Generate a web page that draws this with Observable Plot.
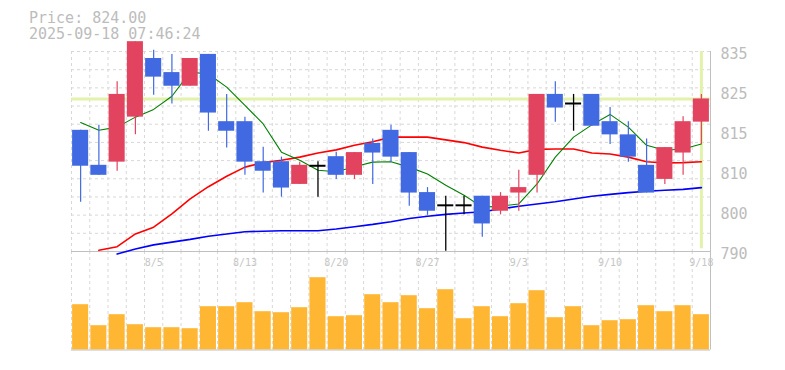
<!DOCTYPE html>
<html><head><meta charset="utf-8">
<script src="https://cdn.jsdelivr.net/npm/d3@7"></script>
<script src="https://cdn.jsdelivr.net/npm/@observablehq/plot@0.6"></script>
<style>
body{margin:0;background:#fff;}
#wrap{position:relative;width:785px;height:370px;overflow:hidden;background:#fff;}
#title{position:absolute;left:29px;top:11px;font-family:"DejaVu Sans Mono",monospace;font-size:15px;line-height:15.6px;color:#bcbcbc;white-space:pre;z-index:3;}
#wrap svg{position:absolute;left:0;}
</style></head><body>
<div id="wrap">
  <div id="title"></div>
</div>
<script>
// ---- data ----
const dates = ["7/30","7/31","8/1","8/4","8/5","8/6","8/7","8/8","8/12","8/13","8/14","8/15","8/18","8/19","8/20","8/21","8/22","8/25","8/26","8/27","8/28","8/29","9/1","9/2","9/3","9/4","9/5","9/8","9/9","9/10","9/11","9/12","9/16","9/17","9/18"];
const open  = [817.1,809.4,810.1,820.0,832.9,829.8,826.8,833.8,819.0,819.0,810.2,810.2,805.2,809.3,811.3,807.2,814.2,817.1,812.2,803.4,800.6,800.6,802.6,799.3,803.3,807.2,825.0,823.0,825.0,819.0,816.1,809.4,806.3,812.1,818.9];
const high  = [817.1,818.2,827.8,836.6,834.7,833.8,832.9,833.8,825.0,820.0,813.4,811.2,810.1,810.2,812.3,812.2,815.2,818.2,812.2,804.5,802.6,802.6,802.6,803.4,808.3,825.0,827.8,825.0,825.0,822.1,819.0,815.2,813.3,820.1,825.0];
const low   = [801.3,807.2,808.1,816.1,824.8,822.9,826.8,816.9,813.2,807.2,803.3,802.4,805.2,802.4,806.3,806.3,805.2,810.1,800.4,798.4,790.5,798.5,793.6,798.5,799.3,803.3,818.9,816.9,818.0,814.0,810.1,803.3,805.2,807.2,814.0];
const close = [809.2,807.2,825.0,836.6,828.8,826.8,832.9,820.9,816.9,810.1,808.1,804.4,809.4,809.3,807.2,812.2,812.1,811.2,803.3,799.3,800.6,800.6,796.5,802.6,804.5,825.0,822.0,823.0,818.0,816.1,811.2,803.3,813.3,819.0,824.0];
const ma5   = [818.8,817.1,817.8,820.0,821.7,824.6,829.9,829.5,826.6,822.6,818.5,812.3,810.5,808.3,808.0,809.1,810.1,810.2,809.0,807.5,805.0,802.8,800.2,800.4,800.9,805.3,811.2,815.6,818.3,820.6,817.8,813.8,812.7,813.0,814.1];
const ma25  = [null,790.7,791.5,794.3,795.8,798.7,802.0,804.7,807.0,809.0,810.0,810.5,811.2,812.1,812.8,813.8,814.6,815.6,815.6,815.6,815.0,814.4,813.4,812.7,812.1,812.9,813.0,813.0,812.1,811.9,811.2,810.2,809.9,810.0,810.2];
const ma75  = [null,null,789.9,791.0,791.9,792.5,793.1,793.8,794.3,794.8,794.9,795.0,795.0,795.0,795.4,795.9,796.4,797.0,797.7,798.2,798.6,798.9,799.2,799.8,800.4,800.9,801.4,802.0,802.6,803.0,803.4,803.7,803.9,804.1,804.5];
const volume = [453,243,353,253,223,223,213,433,433,473,383,373,423,723,333,343,553,473,543,413,603,313,433,333,463,593,323,433,243,293,303,443,383,443,353];
const priceTickLabels = ["790","800","810","815","825","835"];
const dateLabels = ["8/5","8/13","8/20","8/27","9/3","9/10","9/18"];
const lastPrice = 824.00;
const stamp = "2025-09-18 07:46:24";

// ---- layout / styles ----
document.getElementById("title").textContent = "Price: " + lastPrice.toFixed(2) + "\n" + stamp;

const n = dates.length;
const rows = dates.map((d, i) => ({i, date: d, o: open[i], h: high[i], l: low[i], c: close[i], v: volume[i]}));
const half = 0.44;
const yLo = 790.44, yHi = 834.44;
const UP = "#e2445f", DOWN = "#4169e1";
const colorOf = r => r.c > r.o ? UP : DOWN;
const bodies = rows.filter(r => r.c !== r.o);
const dojis = rows.filter(r => r.c === r.o);
const xDom = [-0.5, n - 0.5];
const W = 785, L = 71, R = 75;
const gridColor = "#d8d8d8", axisColor = "#c0c0c0", textColor = "#bcbcbc";
const gridX = d3.range(n).map(i => i - 0.5);
const gridY = d3.range(1, 12).map(k => yLo + 4 * k);
const priceTicks = d3.range(6).map(k => yLo + k * (yHi - yLo) / 5);
const labelOf = new Map(priceTicks.map((t, i) => [t, priceTickLabels[i]]));
const series = arr => arr.map((v, i) => ({i, v}));

const price = Plot.plot({
  width: W, height: 260, marginLeft: L, marginRight: R, marginTop: 51, marginBottom: 9,
  style: {background: "transparent", fontFamily: "DejaVu Sans Mono", fontSize: "15px", overflow: "visible"},
  x: {type: "linear", domain: xDom, axis: null},
  y: {type: "linear", domain: [yLo, yHi], label: null},
  marks: [
    Plot.ruleY(gridY, {stroke: gridColor, strokeDasharray: "3,3"}),
    Plot.ruleX(gridX, {stroke: gridColor, strokeDasharray: "3,3"}),
    Plot.ruleY([lastPrice], {stroke: "#e2f2ab", strokeWidth: 3}),
    Plot.ruleX([n - 1], {stroke: "#e2f2ab", strokeWidth: 3, y1: yLo + 0.6, y2: yHi}),
    Plot.ruleY([yLo], {stroke: axisColor}),
    Plot.ruleX([n - 0.5], {stroke: axisColor}),
    Plot.line(series(ma75), {x: "i", y: "v", stroke: "#0000ff", strokeWidth: 1.6}),
    Plot.line(series(ma25), {x: "i", y: "v", stroke: "#ff0000", strokeWidth: 1.6}),
    Plot.line(series(ma5), {x: "i", y: "v", stroke: "#008000", strokeWidth: 1.1}),
    Plot.ruleX(bodies, {x: "i", y1: "l", y2: "h", stroke: colorOf, strokeWidth: 1.2}),
    Plot.rect(bodies, {x1: r => r.i - half, x2: r => r.i + half, y1: r => Math.min(r.o, r.c), y2: r => Math.max(r.o, r.c), fill: colorOf}),
    Plot.ruleX(dojis, {x: "i", y1: "l", y2: "h", stroke: "#000", strokeWidth: 1.3}),
    Plot.ruleY(dojis, {y: "c", x1: r => r.i - half, x2: r => r.i + half, stroke: "#000", strokeWidth: 2}),
    Plot.axisY(priceTicks, {anchor: "right", tickSize: 0, tickPadding: 10, label: null, tickFormat: d => labelOf.get(d), fill: textColor, dy: 3})
  ]
});
price.style.top = "0px";

const vol = Plot.plot({
  width: W, height: 119, marginLeft: L, marginRight: R, marginTop: 0, marginBottom: 20.5,
  style: {background: "transparent", fontFamily: "DejaVu Sans Mono", fontSize: "10px"},
  x: {type: "linear", domain: xDom, axis: null},
  y: {type: "linear", domain: [0, 985], axis: null},
  marks: [
    Plot.ruleX(gridX, {stroke: gridColor, strokeDasharray: "3,3"}),
    Plot.rect(rows, {x1: r => r.i - half, x2: r => r.i + half, y1: 0, y2: "v", fill: "#ffb733"}),
    Plot.ruleY([0], {stroke: axisColor}),
    Plot.ruleX([n - 0.5], {stroke: axisColor}),
    Plot.text(dateLabels, {x: d => dates.indexOf(d), frameAnchor: "top", lineAnchor: "middle", dy: 11, text: d => d, fill: "#c6c6c6"})
  ]
});
vol.style.top = "251px";

const wrap = document.getElementById("wrap");
wrap.appendChild(vol);
wrap.appendChild(price);
</script>
</body></html>
